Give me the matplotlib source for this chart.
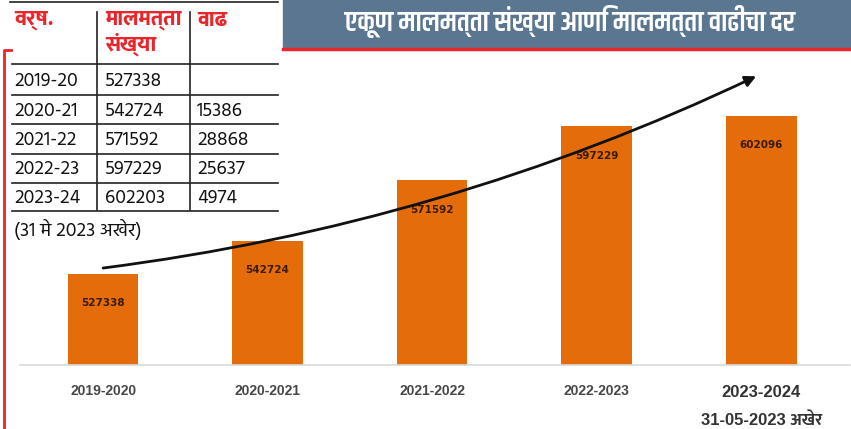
import matplotlib
matplotlib.use("Agg")
import matplotlib.pyplot as plt
from matplotlib.patches import Rectangle
from matplotlib.lines import Line2D

# आलेखातील माहिती
varsh = ["2019-2020", "2020-2021", "2021-2022", "2022-2023", "2023-2024\n31-05-2023 अखेर"]
malmatta = [527338, 542724, 571592, 597229, 602096]

# तक्त्यातील माहिती
tak_varsh = ["2019-20", "2020-21", "2021-22", "2022-23", "2023-24"]
tak_sankhya = ["527338", "542724", "571592", "597229", "602203"]
tak_vadh = ["", "15386", "28868", "25637", "4974"]
tak_head = ["वर्ष.", "मालमत्ता\nसंख्या", "वाढ"]

title = "एकूण मालमत्ता संख्या आणि मालमत्ता वाढीचा दर"
W, H = 851, 429


def px(x, y):
    return x / W, 1 - y / H


fig = plt.figure(figsize=(W / 100, H / 100), dpi=100)

# शीर्षक पट्टी
fig.patches.append(Rectangle(px(283, 47), 1 - 283 / W, 47 / H, transform=fig.transFigure,
                             color="#5b7690", zorder=0))
fig.lines.append(Line2D([283 / W, 1], [1 - 48.5 / H] * 2, transform=fig.transFigure,
                        color="#e8262c", lw=2.5))
fig.text(*px(570, 22), title, family="Khand", fontweight="semibold", fontsize=20.5,
         color="white", ha="center", va="center")

# डावीकडील लाल कंस
fig.lines.append(Line2D([11 / W, 4 / W, 4 / W], [1 - 50 / H, 1 - 50 / H, 0],
                        transform=fig.transFigure, color="#e8262c", lw=2))

# आलेख
ax = fig.add_axes([20 / W, (H - 365) / H, 830 / W, 305 / H])
xs = range(len(malmatta))
bars = ax.bar(xs, malmatta, width=0.43, color="#e46c0a", zorder=2)
for b, v in zip(bars, malmatta):
    ax.annotate(str(v), (b.get_x() + b.get_width() / 2, v), xytext=(0, -21),
                textcoords="offset points", ha="center", va="center",
                fontsize=7.5, fontweight="bold", color="#3a1c05", family="DejaVu Sans")
ax.set_xlim(-0.505, 4.54)
ax.set_ylim(484000, 628700)
ax.set_xticks(list(xs))
ax.set_xticklabels(varsh[:-1] + [""], family="Liberation Sans", fontweight="bold",
                   fontsize=10, color="#474747")
ax.tick_params(axis="x", length=0, pad=14)
ax.set_yticks([])
for s in ["top", "left", "right"]:
    ax.spines[s].set_visible(False)
ax.spines["bottom"].set_color("#d9d9d9")
ax.spines["bottom"].set_linewidth(1.2)
last = varsh[-1].split("\n")
ax.text(4, -0.09, last[0], transform=ax.get_xaxis_transform(), ha="center", va="center",
        family="Liberation Sans", fontweight="bold", fontsize=12, color="#333333")
ax.text(4, -0.18, last[1], transform=ax.get_xaxis_transform(), ha="center", va="center",
        family=["Liberation Sans", "Mukta"], fontweight="bold", fontsize=12, color="#333333")

# वाढीचा बाण
ax.annotate("", xy=(3.97, 621000), xytext=(0.0, 530000),
            arrowprops=dict(arrowstyle="-|>", lw=2, color="#111111", mutation_scale=16,
                            connectionstyle="arc3,rad=0.08", shrinkA=0, shrinkB=0), zorder=5)

# तक्ता
red = "#e8262c"
colx = [14, 105, 197]
fig.text(*px(colx[0], 20), tak_head[0], family="Mukta", fontweight="extra bold",
         fontsize=16, color=red, va="center")
h1, h2 = tak_head[1].split("\n")
fig.text(*px(colx[1], 19), h1, family="Mukta", fontweight="extra bold", fontsize=15.5,
         color=red, va="center")
fig.text(*px(colx[1], 44), h2, family="Mukta", fontweight="extra bold", fontsize=15.5,
         color=red, va="center")
fig.text(*px(colx[2], 20), tak_head[2], family="Mukta", fontweight="extra bold",
         fontsize=15.5, color=red, va="center")

row_lines = [64, 95, 124, 154, 183, 211]
fig.lines.append(Line2D([10 / W, 278 / W], [1 - 1.5 / H] * 2, transform=fig.transFigure,
                        color="#222222", lw=1.2))
for yl in row_lines:
    fig.lines.append(Line2D([12 / W, 278 / W], [1 - yl / H] * 2, transform=fig.transFigure,
                            color="#222222", lw=1.2))
for xl in [97, 190]:
    fig.lines.append(Line2D([xl / W] * 2, [1 - 12 / H, 1 - 210 / H], transform=fig.transFigure,
                            color="#222222", lw=1.2))
for i in range(len(tak_varsh)):
    yc = (row_lines[i] + row_lines[i + 1]) / 2 + 1
    for cx, val in zip(colx, [tak_varsh[i], tak_sankhya[i], tak_vadh[i]]):
        fig.text(*px(cx, yc), val, family="Hind", fontsize=14, color="#111111", va="center")
fig.text(*px(colx[0], 229), "(31 मे 2023 अखेर)", family="Hind", fontsize=14,
         color="#111111", va="center")

fig.savefig("out.png", dpi=100)
